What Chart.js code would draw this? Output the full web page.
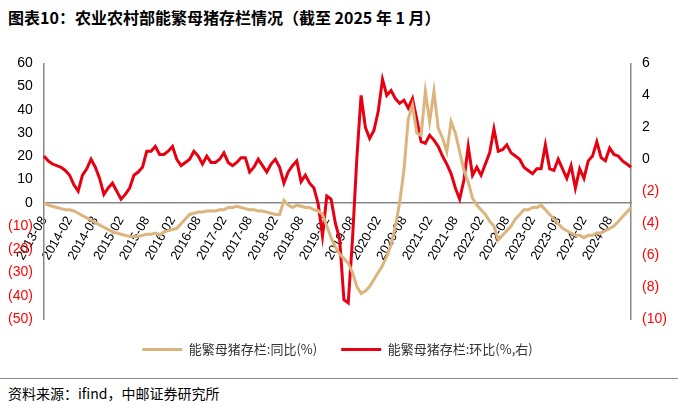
<!DOCTYPE html>
<html><head><meta charset="utf-8">
<script src="https://cdn.jsdelivr.net/npm/chart.js@4"></script>
<style>
body{margin:0;width:678px;height:411px;background:#fff;font-family:"Noto Sans CJK SC","DejaVu Sans",sans-serif;position:relative;overflow:hidden}
#t{position:absolute;left:8px;top:5px;font-size:16px;font-weight:bold;color:#000}
#s{position:absolute;left:8px;top:383px;font-size:14px;color:#000}
#sl{position:absolute;left:0;top:378px;width:678px;border-top:1px solid #888}
#w{position:absolute;left:0;top:52px;width:678px;height:314px}
</style></head><body>
<div id="t">图表10：农业农村部能繁母猪存栏情况（截至 2025 年 1 月）</div>
<div id="w"><canvas id="c"></canvas></div>
<div id="sl"></div>
<div id="s">资料来源：ifind，中邮证券研究所</div>
<script>
const yoy2013=[0,-1,-1.5,-2,-2.5];
const yoy2014=[-3,-3,-3.5,-4.5,-5.5,-6.5,-7.5,-8.5,-9.5,-10.5,-11.5,-12.5];
const yoy2015=[-13,-13.5,-14,-14.5,-14.5,-14.5,-14,-13.5,-13.5,-13,-14,-12.5];
const yoy2016=[-12,-11.5,-11,-9,-7,-5,-4.5,-4,-4,-3.5,-3.5,-3.5];
const yoy2017=[-3,-3,-2,-2,-1.5,-2,-2.5,-3,-3,-3.5,-3.5,-4];
const yoy2018=[-4.5,-5,-5,1,-1,-2,-1,-1.5,-2,-2,-3,-3.5];
const yoy2019=[-5,-10,-15,-19,-22,-24,-26,-30,-36,-39,-38,-36];
const yoy2020=[-33,-30,-27,-23,-18,-10,0,14,36,42,30,29];
const yoy2021=[48,35,48,32,28,22,35,30,22,14,9,2];
const yoy2022=[-1,-3,-5,-8,-10,-16,-14,-12,-10,-7,-5,-3];
const yoy2023=[-3,-2,-2,-1,-3,-5,-7,-9,-11,-12,-13,-14];
const yoy2024=[-14,-15,-14,-14,-13,-13,-12,-11,-10,-8,-6,-4];
const yoy2025=[-2];
const mom2013=[0.2,-0.1,-0.3,-0.4,-0.5];
const mom2014=[-0.7,-1.0,-1.6,-2.0,-1.0,-0.6,0.0,-0.5,-1.2,-2.2,-1.8,-1.5];
const mom2015=[-2.0,-2.5,-2.2,-1.8,-1.0,-0.8,-0.5,0.5,0.5,0.8,0.3,0.3];
const mom2016=[0.5,0.8,0.0,-0.4,-0.2,0.0,0.5,0.2,-0.3,0.2,-0.2,-0.2];
const mom2017=[0.0,0.4,-0.2,-0.4,-0.2,0.1,0.1,-0.8,-0.5,0.0,-0.4,-0.8];
const mom2018=[-0.3,0.0,-0.5,-1.5,-0.8,-0.4,-0.1,-1.4,-1.0,-1.5,-1.8,-2.8];
const mom2019=[-4.8,-2.3,-2.5,-4.0,-5.0,-8.8,-9.0,-5.0,0.0,4.0,2.0,1.3];
const mom2020=[1.8,3.0,5.0,4.0,4.3,3.8,3.5,3.7,3.2,3.8,2.5,1.1];
const mom2021=[1.0,1.5,1.2,0.8,0.2,-0.3,-0.9,-1.8,-2.5,-1.3,0.8,-1.0];
const mom2022=[-0.5,-1.0,-0.3,0.4,1.9,0.5,0.6,0.9,0.4,0.2,0.0,-0.5];
const mom2023=[-0.7,-0.9,-0.6,-0.6,0.9,-0.6,-0.7,0.0,-0.6,-1.2,-0.4,-1.8];
const mom2024=[-0.6,-1.2,-0.1,0.2,1.1,0.1,-0.1,0.7,0.3,0.2,-0.1,-0.3];
const mom2025=[-0.5];
const yoy=[].concat(yoy2013,yoy2014,yoy2015,yoy2016,yoy2017,yoy2018,yoy2019,yoy2020,yoy2021,yoy2022,yoy2023,yoy2024,yoy2025);
const mom=[].concat(mom2013,mom2014,mom2015,mom2016,mom2017,mom2018,mom2019,mom2020,mom2021,mom2022,mom2023,mom2024,mom2025);
const labels=[];
for(let y=2013,m=8;labels.length<yoy.length;){labels.push(y+'-'+String(m).padStart(2,'0'));m++;if(m>12){m=1;y++;}}
const fmt=v=>v<0?'('+(-v)+')':String(v);
const col=c=>c.tick.value<0?'#ff0000':'#000';
new Chart(document.getElementById('c'),{type:'line',
data:{labels,datasets:[
{label:'能繁母猪存栏:同比(%)',data:yoy,borderColor:'#dcb47d',backgroundColor:'#dcb47d',borderWidth:3,pointRadius:0,yAxisID:'y',tension:0},
{label:'能繁母猪存栏:环比(%,右)',data:mom,borderColor:'#e60012',backgroundColor:'#e60012',borderWidth:3,pointRadius:0,yAxisID:'y1',tension:0}]},
options:{responsive:true,maintainAspectRatio:false,animation:false,
layout:{padding:{left:5,right:8,top:4,bottom:0}},
plugins:{legend:{position:'bottom',labels:{boxWidth:40,boxHeight:0,font:{size:13,family:'Noto Sans CJK SC'},color:'#333',padding:24}},tooltip:{enabled:false}},
scales:{
x:{position:{y:0},grid:{display:false,drawTicks:true},border:{color:'#888',width:1.5},
 ticks:{autoSkip:false,maxRotation:60,minRotation:60,color:'#000',font:{size:13,family:'Liberation Sans'},
 callback:(v,i)=>i%6===0?labels[i]:null}},
y:{min:-50,max:60,ticks:{stepSize:10,callback:fmt,color:col,font:{size:14,family:'Liberation Sans'}},grid:{display:false},border:{color:'#888',width:1.5}},
y1:{position:'right',min:-10,max:6,ticks:{stepSize:2,callback:fmt,color:col,font:{size:14,family:'Liberation Sans'}},grid:{display:false},border:{color:'#888',width:1.5}}
}}});
</script></body></html>
